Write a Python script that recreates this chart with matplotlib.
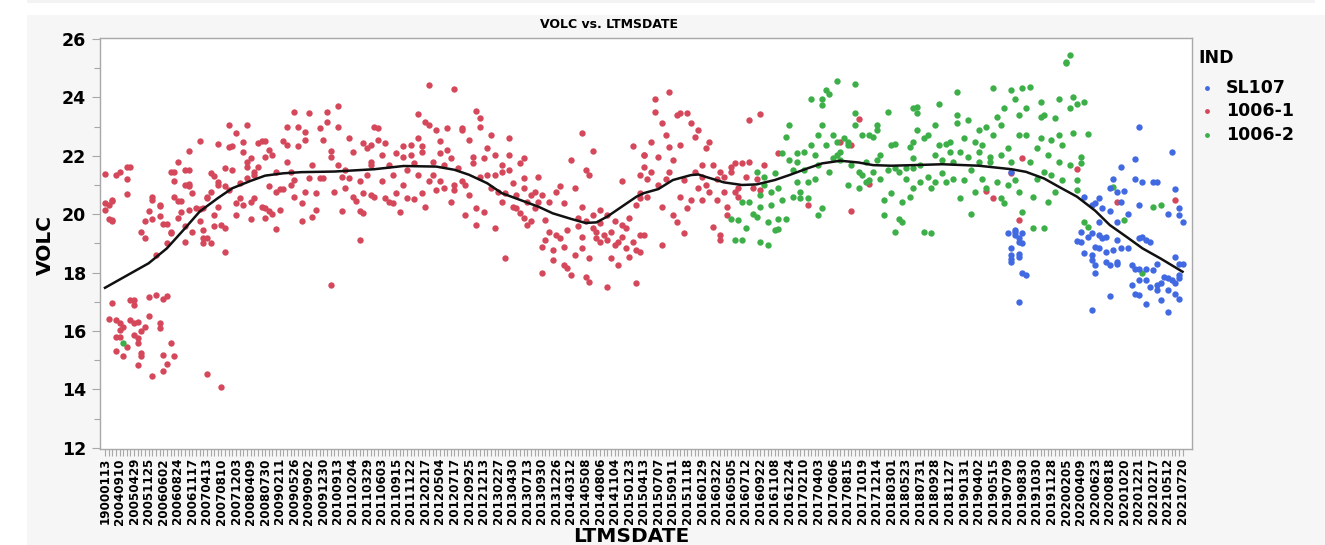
import numpy as np
import matplotlib
matplotlib.use("Agg")
import matplotlib.pyplot as plt
from matplotlib.patches import Rectangle
from matplotlib.lines import Line2D

# tick labels (every 4th date category)
date_labels = [
    "19000113", "20040910", "20050429", "20051125", "20060602", "20060824", "20061117",
    "20070413", "20070810", "20071203", "20080409", "20080730", "20090211", "20090526",
    "20090902", "20091230", "20100913", "20110204", "20110329", "20110603", "20110915",
    "20111122", "20120217", "20120504", "20120717", "20120925", "20121213", "20130227",
    "20130430", "20130713", "20130930", "20131226", "20140312", "20140508", "20140806",
    "20141104", "20150123", "20150413", "20150707", "20150911", "20151118", "20160129",
    "20160322", "20160505", "20160712", "20160922", "20161108", "20161224", "20170210",
    "20170403", "20170606", "20170815", "20171019", "20171214", "20180301", "20180523",
    "20180731", "20180928", "20181127", "20190131", "20190402", "20190515", "20190709",
    "20190830", "20191030", "20191128", "20200205", "20200409", "20200623", "20200818",
    "20201020", "20201221", "20210217", "20210512", "20210720",
]
n_dates = 297

# (date index, VOLC)
red_1006_1 = [
    (0, 21.37), (0, 20.4), (1, 20.3), (2, 20.45), (2, 20.5), (0, 20.15), (1, 19.85), (2, 19.8),
    (2, 19.75), (3, 21.35), (4, 21.46), (6, 21.6), (6, 21.2), (6, 20.7),
    (2, 16.97), (7, 17.06), (8, 17.06), (8, 16.9), (12, 17.15), (14, 17.24), (16, 17.1), (17, 17.2),
    (1, 16.42), (3, 16.38), (4, 16.27), (7, 16.38), (8, 16.27), (9, 16.32), (12, 16.53), (5, 16.15),
    (11, 16.13), (10, 16.01), (15, 16.27), (15, 16.1), (4, 16.04), (3, 15.81), (4, 15.79), (8, 15.87),
    (9, 15.75), (6, 15.44), (3, 15.32), (5, 15.13), (9, 15.58), (18, 15.58), (10, 15.24), (10, 15.13),
    (16, 15.18), (19, 15.15), (9, 14.84), (17, 14.87), (16, 14.63), (13, 14.46), (28, 14.52), (32, 14.1),
    (7, 21.6), (14, 18.6), (10, 19.4), (11, 19.2), (11, 19.77), (12, 20.1), (13, 20.5), (13, 20.6),
    (13, 19.84), (15, 20.3), (15, 20.28), (15, 19.95), (16, 19.66), (17, 19.66), (17, 19.03), (18, 19.4),
    (18, 19.35), (18, 21.46), (19, 21.46), (19, 21.14), (19, 20.6), (20, 20.45), (21, 20.45), (20, 19.86),
    (21, 20.07), (20, 21.78), (22, 21.0), (23, 21.02), (23, 20.98), (22, 21.5), (23, 21.52), (23, 22.15),
    (23, 20.15), (22, 19.58), (22, 19.06), (24, 20.72), (24, 19.4), (25, 20.2), (26, 20.18), (27, 20.22),
    (26, 19.75), (26, 22.5), (27, 19.2), (27, 19.0), (28, 19.2), (29, 19.0), (27, 19.46), (28, 20.6),
    (28, 20.55), (29, 21.4), (30, 21.3), (31, 21.1), (31, 21.0), (29, 20.77), (30, 19.58), (30, 19.98),
    (31, 22.4), (31, 20.26), (32, 19.63), (33, 21.57), (33, 20.95), (33, 18.7), (33, 19.54), (34, 20.83),
    (34, 23.04), (34, 22.3), (35, 22.33), (35, 21.5), (36, 20.38), (36, 19.97), (36, 22.77), (37, 21.06),
    (37, 20.55), (38, 20.32), (38, 22.46), (38, 22.12), (39, 23.04), (39, 21.8), (39, 21.6), (39, 21.23),
    (40, 20.43), (40, 21.94), (40, 19.84), (41, 21.46), (41, 21.35), (41, 20.55), (42, 22.45), (43, 22.5),
    (44, 22.5), (42, 21.63), (43, 20.26), (44, 21.97), (44, 20.2), (44, 19.88), (45, 20.95), (45, 22.2),
    (46, 22.03), (45, 20.1), (46, 20.0), (47, 19.48), (47, 21.46), (47, 20.77), (48, 20.85), (49, 20.85),
    (48, 20.15), (49, 22.49), (50, 23.0), (50, 21.8), (50, 22.37), (51, 21.46), (51, 21.0), (52, 21.17),
    (52, 20.6), (52, 23.5), (53, 23.0), (53, 22.32), (54, 19.75), (54, 20.38), (55, 22.54), (55, 22.8),
    (55, 20.77), (56, 23.46), (56, 21.23), (57, 21.69), (57, 19.92), (58, 20.15), (58, 20.72), (59, 21.23),
    (59, 22.94), (60, 22.54), (60, 21.23), (61, 23.49), (61, 23.17), (62, 21.97), (62, 17.58), (62, 22.17),
    (63, 20.77), (64, 21.69), (64, 23.72), (64, 22.97), (65, 21.29), (65, 20.11), (66, 20.89), (66, 21.52),
    (67, 22.6), (67, 21.23), (68, 20.6), (68, 22.12), (69, 20.45), (70, 20.1), (70, 19.12), (70, 21.12),
    (71, 22.43), (71, 20.03), (71, 20.72), (72, 21.35), (72, 22.26), (73, 21.69), (73, 20.66), (74, 23.0),
    (75, 22.94), (73, 22.37), (73, 21.8), (74, 20.6), (75, 22.54), (76, 22.03), (76, 21.12), (77, 20.55),
    (77, 22.43), (78, 20.43), (78, 21.69), (79, 20.37), (79, 21.35), (80, 22.09), (80, 20.72), (81, 20.09),
    (82, 22.32), (82, 21.97), (82, 21.0), (83, 21.52), (83, 20.55), (84, 22.37), (84, 22.03), (85, 20.52),
    (85, 21.74), (86, 23.42), (86, 22.6), (86, 21.35), (87, 22.14), (87, 20.72), (87, 22.32), (88, 23.17),
    (88, 20.26), (89, 24.43), (89, 23.06), (89, 21.12), (90, 21.8), (90, 21.35), (91, 20.83), (91, 22.89),
    (92, 22.09), (92, 21.12), (92, 22.49), (93, 21.69), (93, 20.89), (94, 22.94), (94, 22.2), (95, 20.43),
    (95, 21.92), (96, 21.0), (96, 20.83), (96, 24.29), (97, 21.57), (98, 22.89), (98, 21.12), (98, 22.94),
    (99, 21.0), (99, 19.98), (100, 22.54), (100, 20.66), (101, 21.97), (101, 21.74), (102, 20.2),
    (102, 23.54), (102, 19.63), (103, 23.29), (103, 23.0), (103, 21.29), (104, 21.92), (104, 20.09),
    (105, 21.35), (105, 22.26), (106, 20.89), (106, 22.72), (107, 21.35), (107, 22.03), (107, 19.52),
    (108, 20.77), (109, 21.69), (109, 20.43), (109, 21.46), (110, 18.49), (110, 20.72), (111, 21.52),
    (111, 22.6), (111, 22.03), (112, 20.26), (112, 21.06), (113, 20.2), (113, 20.66), (114, 21.74),
    (114, 20.03), (115, 20.89), (115, 21.23), (115, 21.92), (115, 19.86), (116, 20.43), (116, 19.63),
    (117, 20.66), (117, 19.75), (118, 20.2), (118, 20.77), (119, 20.43), (119, 21.29), (120, 20.66),
    (120, 18.89), (120, 17.98), (121, 19.12), (121, 19.8), (122, 19.4), (122, 20.43), (123, 18.43),
    (123, 18.78), (124, 20.77), (124, 19.29), (125, 20.95), (125, 19.18), (126, 18.89), (126, 20.37),
    (126, 18.26), (127, 19.46), (127, 18.15), (128, 17.92), (128, 21.86), (129, 18.61), (129, 20.89),
    (130, 19.86), (130, 19.58), (131, 19.23), (131, 18.83), (131, 22.77), (131, 20.26), (132, 19.75),
    (132, 17.86), (132, 21.52), (133, 17.69), (133, 21.35), (133, 18.49), (134, 19.52), (134, 22.17),
    (134, 19.98), (135, 19.18), (135, 19.4), (136, 20.15), (136, 19.06), (136, 19.69), (137, 19.29),
    (138, 17.52), (138, 19.12), (138, 19.98), (139, 18.49), (139, 19.4), (140, 18.95), (140, 19.75),
    (141, 18.26), (141, 19.06), (142, 19.63), (142, 21.12), (142, 19.23), (143, 18.83), (143, 19.52),
    (144, 19.86), (144, 18.55), (145, 22.32), (145, 19.06), (146, 20.32), (146, 18.78), (146, 17.64),
    (147, 21.35), (147, 19.29), (147, 20.72), (148, 22.03),
    (147, 20.54), (148, 19.28), (147, 18.71), (148, 21.62), (148, 22.02), (149, 21.22), (149, 20.6),
    (150, 22.48), (150, 21.45), (151, 23.96), (151, 23.5), (152, 21.97), (152, 20.99), (153, 18.94),
    (153, 23.11), (153, 20.25), (154, 22.71), (154, 21.22), (155, 22.31), (155, 24.19), (155, 21.45),
    (156, 19.97), (156, 21.85), (157, 19.74), (157, 23.39), (158, 20.6), (158, 23.45), (158, 22.37),
    (159, 19.34), (159, 21.17), (160, 20.2), (160, 23.45), (161, 23.11), (161, 20.48), (162, 21.45),
    (162, 22.65), (163, 20.88), (163, 22.88), (164, 20.48), (164, 21.68), (164, 21.28), (165, 22.25),
    (165, 20.99), (166, 22.48), (166, 20.77), (167, 21.68), (167, 19.57), (168, 21.22), (168, 20.48),
    (169, 19.28), (169, 19.11), (169, 21.45), (170, 20.77), (170, 21.28), (171, 20.25), (171, 19.97),
    (172, 21.45), (172, 21.62), (173, 20.77), (173, 21.74), (174, 20.6), (174, 20.88), (175, 21.74),
    (176, 21.28), (177, 23.22), (177, 21.79), (178, 20.88), (179, 21.22), (180, 23.42), (180, 20.82),
    (181, 21.68), (185, 22.08), (193, 20.33), (202, 22.46), (205, 22.37), (207, 23.26), (205, 20.1),
    (210, 21.02), (242, 20.79), (244, 20.56), (249, 21.4), (251, 19.8), (252, 21.94), (267, 21.54),
    (278, 20.42), (294, 20.49),
]

green_1006_2 = [
    (5, 15.6),
    (172, 19.85), (173, 19.11), (174, 19.8), (175, 20.42), (175, 19.11), (176, 19.54), (177, 20.42),
    (178, 20.02), (179, 19.91), (179, 21.45), (180, 20.65), (180, 19.06), (180, 20.25), (181, 20.99),
    (181, 21.28), (182, 19.74), (182, 18.96), (183, 20.77), (183, 20.31), (184, 19.45), (184, 21.4),
    (185, 19.85), (185, 19.51), (185, 20.88), (186, 20.48), (186, 22.08), (187, 19.85), (187, 22.65),
    (188, 21.85), (188, 23.05), (189, 20.6), (189, 21.51), (190, 21.11), (190, 21.79), (190, 22.08),
    (191, 20.77), (191, 20.54), (192, 22.14), (192, 21.51), (193, 21.11), (193, 20.54), (194, 22.37),
    (194, 23.96), (195, 22.02), (195, 21.22), (196, 19.97), (196, 21.68), (196, 22.71), (197, 20.2),
    (197, 23.96), (197, 23.74), (197, 23.05), (198, 22.37), (198, 24.25), (199, 24.13), (199, 21.45),
    (200, 21.91), (200, 22.71), (201, 22.02), (201, 24.56), (201, 22.48), (202, 21.85), (202, 22.14),
    (203, 22.6), (204, 22.37), (204, 22.48), (204, 20.99), (205, 21.68), (206, 23.45), (206, 24.47),
    (206, 23.05), (207, 20.88), (207, 21.45), (208, 22.71), (208, 21.34), (209, 21.11), (209, 21.79),
    (210, 21.17), (210, 22.71), (211, 21.45), (211, 22.65), (212, 21.85), (212, 22.88), (212, 23.05),
    (213, 21.22), (213, 22.02), (214, 19.97), (214, 20.48), (215, 23.5), (215, 21.51), (216, 22.37),
    (216, 20.71), (217, 21.57), (217, 19.4), (217, 22.42), (218, 19.85), (218, 21.45), (219, 20.42),
    (219, 19.74), (220, 21.22), (220, 21.57), (221, 22.31), (221, 20.6), (222, 20.88), (222, 23.62),
    (222, 21.91),
    (222, 21.57), (222, 22.48), (223, 23.68), (223, 23.45), (223, 22.88), (224, 21.68), (224, 21.11),
    (225, 19.4), (225, 22.6), (226, 21.28), (226, 22.71), (227, 20.88), (227, 19.34), (228, 22.02),
    (228, 23.05), (228, 21.11), (229, 23.79), (229, 22.37), (230, 21.4), (230, 21.85), (231, 22.42),
    (231, 21.11), (232, 22.14), (232, 22.48), (233, 21.22), (233, 21.79), (234, 23.39), (234, 24.19),
    (234, 23.11), (235, 20.54), (235, 22.14), (236, 22.6), (236, 21.17), (237, 21.97), (237, 23.22),
    (238, 20.02), (238, 21.51), (239, 22.48), (239, 20.77), (240, 22.14), (240, 22.88), (240, 21.79),
    (241, 21.22), (241, 22.37), (242, 22.99), (242, 20.88), (243, 21.97), (243, 21.79), (244, 22.71),
    (244, 24.31), (245, 21.11), (245, 23.34), (246, 23.05), (246, 20.54), (246, 22.02), (247, 23.62),
    (247, 20.37), (248, 22.25), (248, 20.99), (249, 21.79), (249, 24.25), (250, 23.96), (250, 21.17),
    (251, 23.39), (251, 22.71), (251, 20.77), (252, 20.08), (252, 24.31), (253, 22.71), (253, 23.62),
    (254, 21.79), (254, 24.36), (255, 20.6), (255, 19.54), (256, 22.25), (256, 21.22), (257, 23.34),
    (257, 22.6), (257, 23.85), (258, 21.45), (258, 23.39), (258, 19.54), (259, 22.02), (259, 20.42),
    (260, 22.54), (260, 21.34), (261, 23.28), (261, 20.77), (262, 22.71), (262, 23.96), (262, 21.79),
    (263, 22.37), (263, 21.17), (264, 25.2), (264, 25.16), (265, 21.68), (265, 23.62), (265, 25.45),
    (266, 24.02), (266, 22.77), (267, 21.17), (267, 20.82), (267, 23.79), (268, 21.97), (268, 21.74),
    (269, 23.85), (269, 19.74), (270, 22.76), (270, 19.57), (277, 20.94), (280, 19.8), (285, 17.97),
    (288, 20.25), (290, 20.33),
]

blue_sl107 = [
    (249, 21.43),
    (248, 19.34), (249, 18.83), (249, 18.48), (249, 18.37), (250, 19.4), (250, 19.28), (251, 19.17),
    (251, 18.65), (251, 18.54), (252, 19.0), (252, 19.34), (251, 19.06), (252, 18.0), (253, 17.92),
    (251, 17.0), (250, 19.45), (249, 18.6),
    (284, 22.99), (293, 22.14), (283, 21.89), (279, 21.6), (277, 21.22), (276, 20.88), (278, 20.77),
    (280, 20.8), (283, 21.22), (285, 21.11), (288, 21.1), (289, 21.1), (273, 20.54), (271, 20.31),
    (274, 20.2), (276, 20.11), (269, 20.6), (272, 20.37), (279, 20.42), (281, 20.02), (284, 20.31),
    (294, 20.85), (295, 20.22), (292, 20.0), (295, 19.97), (296, 19.72), (273, 19.74), (278, 19.74),
    (268, 19.4), (270, 19.23), (271, 19.34), (273, 19.28), (274, 19.17), (275, 19.23), (278, 19.11),
    (267, 19.08), (268, 19.06), (272, 18.88), (273, 18.83), (275, 18.71), (277, 18.77), (279, 18.83),
    (281, 18.83), (284, 19.17), (285, 19.23), (286, 19.11), (287, 19.06), (269, 18.66), (271, 18.6),
    (271, 18.43), (272, 18.26), (272, 18.0), (275, 18.37), (276, 18.26), (278, 18.37), (278, 18.31),
    (282, 18.26), (283, 18.14), (284, 18.14), (286, 18.14), (288, 18.08), (289, 18.31), (294, 18.54),
    (295, 18.31), (296, 18.31), (282, 17.57), (284, 17.74), (283, 17.28), (284, 17.23), (286, 17.74),
    (287, 17.51), (289, 17.57), (289, 17.4), (290, 17.63), (291, 17.86), (292, 17.8), (293, 17.74),
    (294, 17.63), (292, 17.4), (294, 17.28), (295, 17.11), (286, 16.91), (290, 17.06), (292, 16.66),
    (276, 17.2), (271, 16.72), (295, 17.8), (295, 17.91),
]

# smoothing spline
fit_idx = [0, 12, 17, 22, 26, 31, 35, 40, 44, 49, 54, 63, 74, 82, 91, 96, 100, 105, 109, 114,
           119, 123, 128, 132, 135, 138, 142, 146, 148, 152, 156, 161, 163, 165, 170, 175, 179,
           184, 188, 193, 197, 202, 207, 211, 216, 222, 230, 240, 249, 253, 258, 262, 267, 272,
           276, 281, 285, 290, 296]
fit_val = [17.48, 18.32, 18.83, 19.52, 20.09, 20.55, 20.89, 21.14, 21.32, 21.4, 21.44, 21.46,
           21.54, 21.65, 21.63, 21.52, 21.35, 21.06, 20.72, 20.49, 20.26, 20.03, 19.84, 19.7,
           19.72, 19.92, 20.26, 20.6, 20.72, 20.86, 21.17, 21.34, 21.36, 21.28, 21.09, 21.0,
           21.02, 21.17, 21.34, 21.57, 21.74, 21.83, 21.77, 21.68, 21.66, 21.68, 21.71, 21.66,
           21.54, 21.45, 21.22, 20.94, 20.6, 20.12, 19.63, 19.19, 18.83, 18.48, 18.03]

W, H = 1325, 545
fig = plt.figure(figsize=(W / 100, H / 100), dpi=100, facecolor="white")
fig.add_artist(Rectangle((27 / W, 0), 1 - 27 / W, (H - 15) / H, transform=fig.transFigure,
                         facecolor="#f6f6f6", edgecolor="none", zorder=-10))
fig.add_artist(Rectangle((27 / W, (H - 3) / H), 1 - 37 / W, 3 / H, transform=fig.transFigure,
                         facecolor="#f3f3f3", edgecolor="none", zorder=-10))

ax = fig.add_axes([100 / W, (H - 449) / H, (1192 - 100) / W, (449 - 37.5) / H])
ax.set_facecolor("white")

colors = {"SL107": "#4169e1", "1006-1": "#d5475a", "1006-2": "#3daf48"}
for pts, name in [(red_1006_1, "1006-1"), (green_1006_2, "1006-2"), (blue_sl107, "SL107")]:
    arr = np.array(pts)
    ax.scatter(arr[:, 0], arr[:, 1], s=21, color=colors[name], linewidths=0, zorder=3)

ax.plot(fit_idx, fit_val, color="#111111", lw=1.8, zorder=4)

ax.set_xlim(-1.37, 298.6)
ax.set_ylim(11.96, 26.05)

ax.set_xticks(np.arange(0, n_dates, 4))
ax.set_xticklabels(date_labels, rotation=90, fontsize=8.6, fontweight="bold")
ax.set_xticks(np.arange(0, n_dates), minor=True)
ax.set_yticks(np.arange(12, 27, 2))
ax.set_yticklabels([str(v) for v in range(12, 27, 2)], fontsize=12.5, fontweight="bold")
ax.set_yticks(np.arange(13, 26, 2), minor=True)
ax.tick_params(axis="x", which="both", length=5, width=0.8, color="#a8a8a8", pad=1.5)
ax.tick_params(axis="y", which="major", length=6, width=0.8, color="#a8a8a8", pad=4)
ax.tick_params(axis="y", which="minor", length=4, width=0.8, color="#a8a8a8")
for sp in ax.spines.values():
    sp.set_color("#a8a8a8")
    sp.set_linewidth(1.0)

fig.text(609 / W, 1 - 25 / H, "VOLC vs. LTMSDATE", ha="center", va="center",
         fontsize=9, fontweight="bold")
fig.text(631 / W, 1 - 537 / H, "LTMSDATE", ha="center", va="center",
         fontsize=14.5, fontweight="bold")
fig.text(45 / W, 1 - 245 / H, "VOLC", ha="center", va="center", rotation=90,
         fontsize=14.5, fontweight="bold")

# legend
fig.text(1198 / W, 1 - 58 / H, "IND", ha="left", va="center", fontsize=12.5, fontweight="bold")
for name, yy in [("SL107", 88), ("1006-1", 111), ("1006-2", 135)]:
    fig.add_artist(Line2D([1207 / W], [1 - yy / H], marker="o", markersize=3.5,
                          color=colors[name], markeredgewidth=0, transform=fig.transFigure))
    fig.text(1226 / W, 1 - yy / H, name, ha="left", va="center", fontsize=12.5,
             fontweight="bold")

fig.savefig("out.png", dpi=100, facecolor=fig.get_facecolor())
